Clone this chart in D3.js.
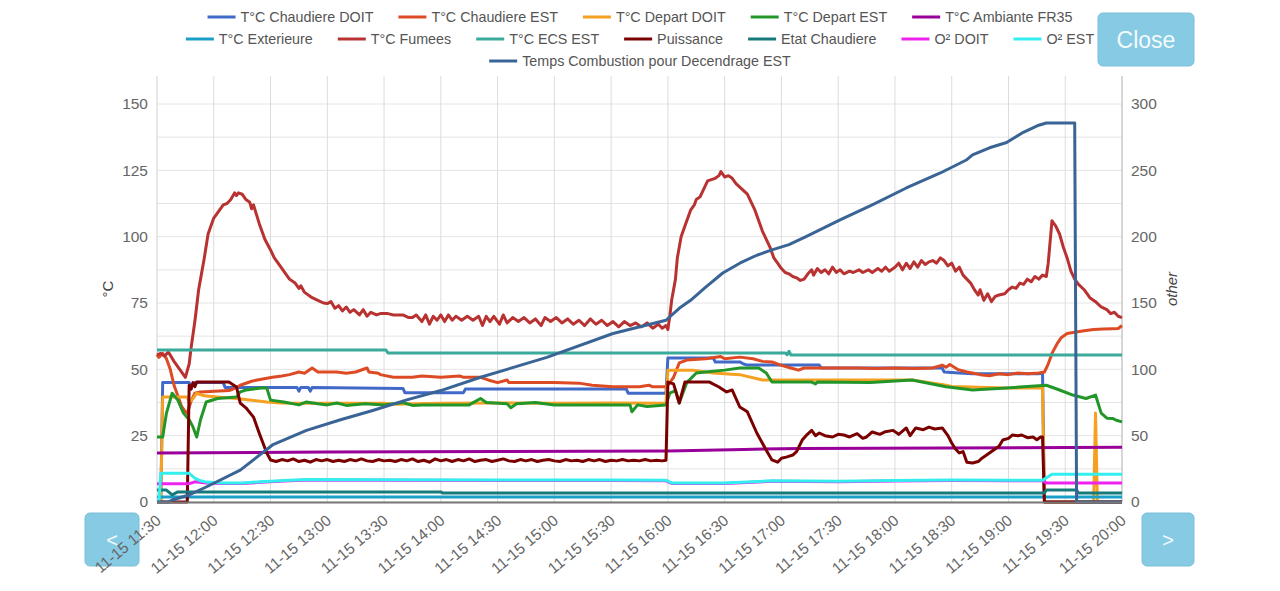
<!DOCTYPE html>
<html><head><meta charset="utf-8">
<script src="https://cdn.jsdelivr.net/npm/d3@7"></script>
<style>
body{margin:0;background:#fff;}
svg{display:block;font-family:"Liberation Sans",Arial,Helvetica,sans-serif;}
</style>
</head><body>
<svg id="c" width="1280" height="591"></svg>
<script>
// ---------- DATA ----------
const xTickLabels = ["11:30","12:00","12:30","13:00","13:30","14:00","14:30","15:00","15:30","16:00","16:30","17:00","17:30","18:00","18:30","19:00","19:30","20:00"];
const datePrefix = "11-15";
const leftTicks = [0,25,50,75,100,125,150];
const rightTicks = [0,50,100,150,200,250,300];
const seriesNames = ["T°C Chaudiere DOIT","T°C Chaudiere EST","T°C Depart DOIT","T°C Depart EST","T°C Ambiante FR35","T°C Exterieure","T°C Fumees","T°C ECS EST","Puissance","Etat Chaudiere","O² DOIT","O² EST","Temps Combustion pour Decendrage EST"];
const seriesAxis = ["left","left","left","left","left","left","left","left","right","left","left","left","right"];

const chaudiereDoit = [["11:32",0],["11:33",45],["11:47",45],["11:48",43.5],["11:50",45],["12:05",45],["12:06",43.2],["12:44",43.2],["12:45",41.8],["12:46",43.2],["12:50",43.2],["12:51",41.8],["12:52",43.2],["13:40",42.8],["13:41",41.2],["14:12",41.2],["14:13",42.6],["15:38",42.6],["15:39",41],["15:59",41],["16:00",54.3],["16:24",54.3],["16:25",52.8],["16:38",52.8],["16:40",52],["16:42",51.6],["17:20",51.6],["17:21",50.5],["18:25",50.5],["18:26",49],["18:34",48.6],["18:41",48.3],["19:16",48.3],["19:18",48.6],["19:19",0],["20:00",0]];

const chaudiereEst = [["11:30",55.5],["11:31",54.5],["11:33",56],["11:35",54],["11:37",50],["11:39",44],["11:41",40],["11:43",36],["11:45",34],["11:46",33.5],["11:48",38],["11:50",41],["11:53",41.5],["12:08",42],["12:10",42.5],["12:14",44],["12:20",45.5],["12:23",46],["12:31",47],["12:36",47.5],["12:40",48],["12:45",49],["12:48",48.5],["12:52",50.5],["12:55",49],["13:05",49],["13:10",48.5],["13:15",49],["13:21",50.5],["13:22",49],["13:27",48.5],["13:28",48],["13:35",47],["13:45",47],["13:50",47.5],["14:00",47],["14:10",47.5],["14:12",47],["14:21",47],["14:25",46],["14:30",45],["14:35",46],["14:36",45],["15:00",45],["15:13",44.8],["15:20",44],["15:31",43.4],["15:45",43.4],["15:50",44],["15:52",43.4],["15:59",43.4],["16:00",44],["16:03",47],["16:06",52.4],["16:10",53.5],["16:20",54],["16:28",54.8],["16:30",54],["16:38",54.6],["16:45",54],["16:50",53],["16:55",52.8],["17:00",51.5],["17:05",50.5],["17:09",49.7],["17:12",50.5],["17:30",50.5],["17:40",50.5],["17:50",50.3],["18:00",50.5],["18:10",50.3],["18:20",50.5],["18:25",51.6],["18:27",50.8],["18:29",51.8],["18:33",50],["18:38",49],["18:41",48.6],["18:45",48],["18:50",47.6],["18:55",48.3],["19:00",48],["19:05",48.6],["19:10",48.3],["19:16",48.6],["19:19",49],["19:21",52],["19:23",56],["19:26",60],["19:28",62],["19:31",63.5],["19:35",64],["19:40",64.5],["19:45",65],["19:50",65.2],["19:55",65.3],["19:58",65.4],["20:00",66.5]];

const departDoit = [["11:32",0],["11:33",39.6],["11:46",39.6],["11:47",37.7],["11:49",39],["11:51",41],["11:55",40],["12:02",39.6],["12:12",39],["12:19",38.4],["12:28",37.7],["12:35",37.3],["12:50",37.2],["13:30",37.2],["13:35",36.8],["14:00",37.2],["14:30",37.3],["15:00",37.2],["15:30",37.3],["15:59",37.2],["16:00",49.7],["16:13",49.7],["16:24",48.6],["16:38",48],["16:50",46],["16:52",46],["18:09",46],["18:27",44],["18:30",43.5],["18:59",43],["19:18",43],["19:19",0],["19:45",0],["19:46",33.5],["19:47",0],["20:00",0]];

const departEst = [["11:30",24.5],["11:33",24.5],["11:35",33.5],["11:38",41],["11:41",38.4],["11:44",33.5],["11:47",31],["11:49",28.3],["11:51",24.5],["11:53",31],["11:56",37.7],["12:02",39],["12:12",39.6],["12:14",41.5],["12:17",42.2],["12:25",43],["12:28",43],["12:30",38.4],["12:37",37.7],["12:45",36.6],["12:49",37.7],["12:55",37],["13:00",36.6],["13:05",37.3],["13:10",36.4],["13:20",37],["13:30",36.6],["13:40",37.5],["13:45",36.4],["13:50",36.6],["14:00",36.6],["14:15",36.6],["14:21",39],["14:24",37.5],["14:35",37],["14:37",35.5],["14:40",37],["14:50",37.5],["15:00",36.6],["15:20",36.6],["15:40",36.6],["15:41",34],["15:44",36.6],["15:49",36],["15:59",36.6],["16:01",41],["16:04",42],["16:06",37.3],["16:10",45],["16:15",48.6],["16:20",49],["16:30",49.7],["16:38",50.5],["16:48",50.5],["16:52",48.6],["16:55",45.2],["17:16",45.2],["17:18",44.5],["17:19",45.2],["17:47",45],["18:09",46],["18:27",43.4],["18:41",42.2],["18:59",43],["19:20",44],["19:27",42.2],["19:34",40.3],["19:41",39],["19:46",40.3],["19:49",33.5],["19:52",31.6],["19:55",31.5],["19:57",30.8],["20:00",30.2]];

const ambiante = [["11:30",18.5],["13:00",18.8],["14:30",19.0],["16:00",19.2],["16:40",19.8],["17:10",20.2],["20:00",20.6]];

const exterieure = [["11:30",1.9],["14:00",1.9],["16:00",1.9],["19:19",1.9],["19:36",1.9],["20:00",1.9]];

const fumees = [["11:30",55.5],["11:32",56],["11:34",55],["11:36",56.5],["11:39",53],["11:42",50],["11:45",47],["11:47",52],["11:48",58],["11:50",68],["11:52",80],["11:53",84],["11:55",92],["11:57",101],["12:00",107],["12:02",109],["12:05",112],["12:07",112.5],["12:09",114],["12:11",116.5],["12:12",115.5],["12:13",116.5],["12:15",116],["12:17",114],["12:19",113],["12:20",110.5],["12:21",112],["12:24",105],["12:27",99],["12:30",95],["12:32",92],["12:34",90],["12:37",87],["12:40",84],["12:43",82.5],["12:45",80.5],["12:46",81.5],["12:48",79],["12:52",77],["12:55",76],["12:58",75],["13:00",74.8],["13:02",75.5],["13:04",73],["13:06",74],["13:08",72],["13:10",73.5],["13:12",71.5],["13:14",72.5],["13:17",70.5],["13:19",72.5],["13:21",70],["13:23",71.5],["13:26",70.5],["13:28",71],["13:32",71],["13:35",70.5],["13:40",70.5],["13:43",69.5],["13:45",69.5],["13:47",70.5],["13:50",68],["13:52",70.5],["13:54",67],["13:56",70],["13:58",68.5],["14:00",70.5],["14:02",68],["14:04",70.5],["14:06",68.5],["14:08",70],["14:11",68.5],["14:14",70],["14:17",68.5],["14:20",70],["14:22",66.5],["14:24",70],["14:26",68],["14:28",70],["14:31",67],["14:33",70.5],["14:35",67.5],["14:38",69.5],["14:41",68],["14:44",69.5],["14:47",67.5],["14:50",69],["14:53",66.5],["14:55",69.5],["14:58",68],["15:01",69.5],["15:04",67.5],["15:07",69],["15:10",67],["15:13",68.5],["15:16",66.5],["15:19",69],["15:22",67],["15:25",68.5],["15:28",66.5],["15:31",68],["15:34",66],["15:37",68],["15:40",66.5],["15:43",67.5],["15:46",66],["15:49",67.5],["15:52",65.5],["15:55",67],["15:57",65.5],["15:59",66.5],["16:00",65],["16:01",70],["16:02",76],["16:04",84],["16:05",92],["16:07",100],["16:09",104],["16:11",108],["16:12",110],["16:14",112],["16:15",114],["16:17",115],["16:19",118],["16:21",121],["16:23",121.5],["16:25",122],["16:27",123],["16:28",124.5],["16:30",122.5],["16:32",123],["16:34",122],["16:36",120],["16:39",118],["16:42",116],["16:44",113],["16:46",110],["16:48",106],["16:50",102],["16:52",99],["16:54",96],["16:56",92],["16:58",90],["17:00",88],["17:02",86.5],["17:04",86],["17:06",85],["17:08",84.5],["17:10",83.5],["17:12",84],["17:14",86],["17:16",87.5],["17:17",85.5],["17:19",88],["17:21",86.5],["17:23",87.5],["17:25",86],["17:27",88.5],["17:29",86.5],["17:31",87.5],["17:33",86],["17:36",87],["17:38",86.5],["17:41",87.5],["17:43",86.5],["17:46",87.5],["17:48",86.5],["17:51",88],["17:53",87],["17:55",88.5],["17:57",87],["18:00",88.5],["18:02",90],["18:04",87.5],["18:06",90],["18:08",88],["18:10",90.5],["18:12",88.5],["18:14",91],["18:16",89.5],["18:18",90.5],["18:20",91],["18:22",90],["18:24",92],["18:26",91],["18:28",89],["18:30",90],["18:32",87],["18:34",88.5],["18:36",85.5],["18:38",84],["18:40",82.5],["18:42",80],["18:44",78],["18:45",80],["18:47",76],["18:49",78.5],["18:51",75.5],["18:53",77.5],["18:55",78],["18:58",78.5],["19:00",80],["19:02",81],["19:04",80.5],["19:06",82.5],["19:08",82],["19:10",84],["19:12",83],["19:14",85],["19:16",84],["19:18",85.5],["19:20",85],["19:21",90],["19:22",98],["19:23",106],["19:25",104],["19:27",101],["19:29",96],["19:31",92],["19:33",87],["19:35",84],["19:37",82],["19:40",80],["19:43",77],["19:46",75.5],["19:49",73.5],["19:52",72.5],["19:54",71],["19:56",71.5],["19:58",70],["20:00",69.5]];

const ecsEst = [["11:30",57.3],["13:31",57.3],["13:32",56.2],["17:02",56.2],["17:03",55.5],["17:04",56.8],["17:05",55.4],["20:00",55.4]];

const puissance = [["11:30",0],["11:46",0],["11:47",88],["11:48",85],["11:49",90],["11:50",87],["11:51",90.4],["12:08",90.4],["12:12",86.7],["12:14",74.6],["12:17",71],["12:21",64],["12:24",52],["12:28",37],["12:30",31.7],["12:33",30.5],["12:36",32],["12:39",31],["12:42",32.5],["12:45",30.5],["12:48",31.5],["12:51",30],["12:54",32],["12:57",31],["13:00",32],["13:03",30.5],["13:06",31.5],["13:09",30.5],["13:12",32],["13:15",31],["13:18",32.5],["13:21",31],["13:24",30.5],["13:27",32],["13:30",31],["13:33",31.5],["13:36",30.5],["13:39",32],["13:42",31],["13:45",32.5],["13:48",30.5],["13:51",31.5],["13:54",30],["13:57",32.5],["14:00",31],["14:03",32],["14:06",30.5],["14:09",32],["14:12",31],["14:15",32.5],["14:18",30.5],["14:21",31.5],["14:24",32],["14:27",30.5],["14:30",31.5],["14:33",32.5],["14:36",31],["14:39",30.5],["14:42",32],["14:45",31],["14:48",32],["14:51",30.5],["14:54",31.5],["14:57",32],["15:00",31],["15:03",30.5],["15:06",32],["15:09",31],["15:12",31.5],["15:15",30.5],["15:18",32],["15:21",31],["15:24",32],["15:27",30.5],["15:30",31.5],["15:33",31],["15:36",32],["15:39",31],["15:42",31.5],["15:45",31],["15:48",32],["15:51",31],["15:54",31.5],["15:57",31],["15:59",31.5],["16:00",90.4],["16:03",89],["16:06",74.6],["16:09",90.4],["16:22",90.4],["16:27",86.7],["16:31",83],["16:34",84.4],["16:38",71.6],["16:42",68],["16:47",52],["16:52",39],["16:55",31.7],["16:58",30],["17:00",33],["17:03",34],["17:06",35.4],["17:08",38],["17:11",46.7],["17:13",50],["17:16",54],["17:18",50],["17:20",52],["17:23",50],["17:27",49],["17:30",51],["17:33",50.5],["17:36",49],["17:40",51.5],["17:43",48],["17:45",49],["17:48",52.8],["17:52",51],["17:55",53],["17:59",54],["18:02",51],["18:06",55.8],["18:08",50],["18:11",55.8],["18:15",54.5],["18:18",56.5],["18:21",55],["18:25",55.8],["18:28",50],["18:30",44.5],["18:32",40],["18:34",37],["18:36",38],["18:38",30],["18:41",29.4],["18:44",30.5],["18:46",33],["18:49",36],["18:52",39],["18:55",42],["18:57",46.7],["19:00",48],["19:02",50.5],["19:05",50],["19:07",50.5],["19:10",48.5],["19:13",49],["19:15",47],["19:17",49],["19:18",49],["19:19",0],["20:00",0]];

const etatChaudiere = [["11:30",4.5],["11:35",4.5],["11:38",2.7],["11:41",3.8],["14:00",3.8],["14:01",3.4],["19:19",3.4],["19:20",4.5],["19:36",4.5],["19:37",3.4],["20:00",3.4]];

const o2Doit = [["11:30",6.9],["11:47",6.9],["11:50",7.6],["11:56",7.2],["12:05",7.0],["12:15",7.0],["12:25",7.4],["12:40",8.0],["12:50",8.3],["13:30",8.2],["14:30",8.1],["15:30",8.1],["15:59",8.0],["16:02",7.0],["16:30",7.0],["16:55",7.8],["17:30",7.6],["18:00",7.9],["18:30",8.1],["19:00",8.0],["19:18",8.0],["19:20",7.2],["20:00",7.2]];

const o2Est = [["11:31",0],["11:32",10.8],["11:47",10.8],["11:50",9],["11:53",8],["11:56",7.5],["12:05",7.2],["12:15",7.2],["12:25",7.6],["12:40",8.2],["12:50",8.5],["13:30",8.4],["14:30",8.3],["15:30",8.3],["15:59",8.2],["16:02",7.2],["16:30",7.2],["16:55",8.0],["17:30",7.8],["18:00",8.1],["18:30",8.3],["19:00",8.2],["19:18",8.2],["19:23",10.5],["20:00",10.5]];

const tempsCombustion = [["11:30",0],["11:36",0],["11:38",1.5],["11:47",5.3],["11:56",11.3],["12:14",24],["12:31",43],["12:49",54],["13:07",62],["13:24",69],["13:42",77],["14:00",84],["14:21",94],["14:56",109],["15:31",127],["15:59",137],["16:06",146],["16:12",152],["16:20",162],["16:29",172.6],["16:38",180],["16:47",186],["16:55",190],["17:04",194],["17:13",200],["17:31",212.6],["17:48",224],["18:06",236.7],["18:24",248],["18:38",258],["18:41",261.6],["18:50",267],["18:59",271],["19:07",278],["19:16",284],["19:20",285.7],["19:35",285.7],["19:36",0],["20:00",0]];

const seriesData = [chaudiereDoit,chaudiereEst,departDoit,departEst,ambiante,exterieure,fumees,ecsEst,puissance,etatChaudiere,o2Doit,o2Est,tempsCombustion];

// ---------- STYLE ----------
const seriesColors = ["#4169c8","#dd4b25","#f5a020","#23962a","#990099","#1aa0c8","#b83232","#3aaa9a","#7a0000","#167a7a","#ee22ee","#33eeee","#3a6496"];
const legendRows = [5,7,1];

// ---------- DRAW ----------
const svg = d3.select("#c");
const toMin = s => { const [h,m] = s.split(":").map(Number); return h*60+m; };
const L = 157, R = 1122, T = 76, B = 502;
const x = d3.scaleLinear().domain([toMin(xTickLabels[0]), toMin(xTickLabels[xTickLabels.length-1])]).range([L,R]);
const yL = d3.scaleLinear().domain([0,150]).range([B,104]);
const yR = d3.scaleLinear().domain([0,300]).range([B,104]);

// buttons (behind)
function button(bx,by,bw,bh,label,fs){
  svg.append("rect").attr("x",bx).attr("y",by).attr("width",bw).attr("height",bh).attr("rx",5)
    .attr("fill","#86cae4").attr("stroke","#7bbfd9").attr("stroke-width",1);
  svg.append("text").attr("x",bx+bw/2).attr("y",by+bh/2).attr("dy","0.35em").attr("text-anchor","middle")
    .attr("fill","#f4fbfd").attr("font-size",fs).text(label);
}
button(1098,13,96,53,"Close",23);
button(85,513,54,53,"<",20);
button(1142,513,52,53,">",20);

// grid
const g = svg.append("g");
g.selectAll(".hg").data(d3.range(0,150.1,12.5)).join("line")
  .attr("x1",L).attr("x2",R).attr("y1",d=>yL(d)).attr("y2",d=>yL(d))
  .attr("stroke","#e4e4e4").attr("stroke-width",1);
g.selectAll(".vg").data(xTickLabels.slice(1,-1)).join("line")
  .attr("x1",d=>x(toMin(d))).attr("x2",d=>x(toMin(d))).attr("y1",T).attr("y2",B)
  .attr("stroke","#dcdcdc").attr("stroke-width",1);
g.append("line").attr("x1",L).attr("x2",L).attr("y1",T).attr("y2",B).attr("stroke","#d0d0d0");
g.append("line").attr("x1",R).attr("x2",R).attr("y1",T).attr("y2",B).attr("stroke","#c8c8c8").attr("stroke-width",1.5);

// axes labels
const axL = svg.append("g").attr("transform",`translate(${L-9},0)`)
  .call(d3.axisLeft(yL).tickValues(leftTicks).tickSize(0).tickPadding(0));
axL.select(".domain").remove();
axL.selectAll("text").attr("font-size",15.5).attr("fill","#666").attr("font-family","Liberation Sans, Arial, sans-serif");
const axR = svg.append("g").attr("transform",`translate(${R+9},0)`)
  .call(d3.axisRight(yR).tickValues(rightTicks).tickSize(0).tickPadding(0));
axR.select(".domain").remove();
axR.selectAll("text").attr("font-size",15.5).attr("fill","#666").attr("font-family","Liberation Sans, Arial, sans-serif");

const axX = svg.append("g").attr("transform",`translate(0,${B})`)
  .call(d3.axisBottom(x).tickValues(xTickLabels.map(toMin)).tickSize(0).tickFormat((d,i)=>datePrefix+" "+xTickLabels[i]));
axX.select(".domain").remove();
axX.selectAll("text").attr("font-size",15.5).attr("fill","#666").attr("font-family","Liberation Sans, Arial, sans-serif")
  .attr("text-anchor","end").attr("dy","0.35em").attr("y",0)
  .attr("transform","translate(1,16) rotate(-40)");

svg.append("text").attr("transform","translate(113,289) rotate(-90)").attr("text-anchor","middle")
  .attr("font-size",15).attr("fill","#444").text("°C");
svg.append("text").attr("transform","translate(1177,289) rotate(-90)").attr("text-anchor","middle")
  .attr("font-size",15).attr("font-style","italic").attr("fill","#444").text("other");

// lines
const lines = svg.append("g");
seriesData.forEach((data,i)=>{
  const yS = seriesAxis[i]==="right" ? yR : yL;
  const gen = d3.line().x(d=>x(toMin(d[0]))).y(d=>yS(d[1]));
  lines.append("path").datum(data).attr("d",gen).attr("fill","none")
    .attr("stroke",seriesColors[i]).attr("stroke-width",3).attr("stroke-linejoin","round");
});

// bottom axis line
svg.append("line").attr("x1",L).attr("x2",R).attr("y1",B+0.5).attr("y2",B+0.5).attr("stroke","#777").attr("stroke-width",2);

// legend
const leg = svg.append("g").attr("font-size",14.3).attr("fill","#555");
let idx = 0;
const rowY = [17,39,61];
legendRows.forEach((n,r)=>{
  const items = seriesNames.slice(idx, idx+n).map((name,k)=>({name, i: idx+k}));
  idx += n;
  const grp = leg.append("g");
  const meas = items.map(it=>{
    const t = grp.append("text").text(it.name);
    const w = t.node().getComputedTextLength(); t.remove(); return w;
  });
  const box = 28, gapT = 5, gapI = 25;
  const total = d3.sum(meas) + items.length*(box+gapT) + (items.length-1)*gapI;
  let cx = 640 - total/2;
  items.forEach((it,k)=>{
    grp.append("line").attr("x1",cx).attr("x2",cx+box).attr("y1",rowY[r]).attr("y2",rowY[r])
      .attr("stroke",seriesColors[it.i]).attr("stroke-width",3);
    grp.append("text").attr("x",cx+box+gapT).attr("y",rowY[r]).attr("dy","0.35em").text(it.name);
    cx += box+gapT+meas[k]+gapI;
  });
});
</script>
</body></html>
